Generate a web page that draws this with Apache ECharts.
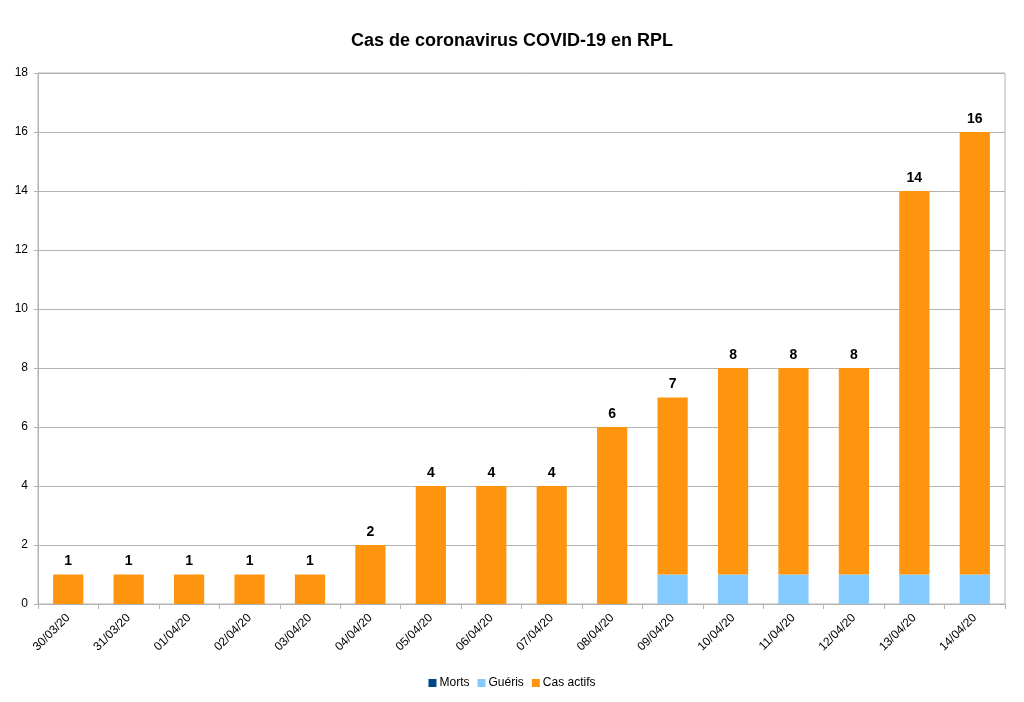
<!DOCTYPE html>
<html>
<head>
<meta charset="utf-8">
<script src="https://cdn.jsdelivr.net/npm/echarts@6/dist/echarts.min.js"></script>
<style>
  html, body { margin: 0; padding: 0; background: #fff; }
  #chart { width: 1024px; height: 702px; }
</style>
</head>
<body>
<div id="chart"></div>
<script>
  // données
  const dates = ['30/03/20', '31/03/20', '01/04/20', '02/04/20', '03/04/20', '04/04/20', '05/04/20', '06/04/20',
    '07/04/20', '08/04/20', '09/04/20', '10/04/20', '11/04/20', '12/04/20', '13/04/20', '14/04/20']
  const morts = [0, 0, 0, 0, 0, 0, 0, 0, 0, 0, 0, 0, 0, 0, 0, 0]
  const gueris = [0, 0, 0, 0, 0, 0, 0, 0, 0, 0, 1, 1, 1, 1, 1, 1]
  const casActifs = [1, 1, 1, 1, 1, 2, 4, 4, 4, 6, 6, 7, 7, 7, 13, 15]

  const totals = casActifs.map((v, i) => v + gueris[i] + morts[i])

  let myChart = echarts.init(document.getElementById('chart'))
  let option = {
    animation: false,
    textStyle: { fontFamily: 'Liberation Sans' },
    title: {
      text: 'Cas de coronavirus COVID-19 en RPL',
      left: 'center',
      top: 27,
      textStyle: { fontSize: 18, fontWeight: 'bold', color: '#000', fontFamily: 'Liberation Sans' }
    },
    legend: {
      bottom: 8,
      left: 'center',
      itemWidth: 8,
      itemHeight: 8,
      itemGap: 8,
      icon: 'rect',
      textStyle: { fontSize: 12, color: '#000', padding: [0, 0, 0, -2] },
      data: ['Morts', 'Guéris', 'Cas actifs']
    },
    grid: {
      left: 38,
      right: 19,
      top: 73,
      bottom: 98,
      show: true,
      borderColor: '#b3b3b3',
      borderWidth: 1
    },
    xAxis: {
      type: 'category',
      data: dates,
      axisLine: { lineStyle: { color: '#b3b3b3' } },
      axisTick: { show: true, length: 5, lineStyle: { color: '#b3b3b3' } },
      axisLabel: { rotate: 45, fontSize: 12, color: '#000', margin: 12 }
    },
    yAxis: {
      type: 'value',
      min: 0,
      max: 18,
      interval: 2,
      axisLine: { show: true, lineStyle: { color: '#b3b3b3' } },
      axisTick: { show: true, length: 4, lineStyle: { color: '#b3b3b3' } },
      axisLabel: { fontSize: 12, color: '#000', margin: 10 },
      splitLine: { lineStyle: { color: '#b3b3b3' } }
    },
    series: [
      {
        name: 'Morts',
        type: 'bar',
        stack: 'total',
        barWidth: '50%',
        color: '#004586',
        data: morts
      },
      {
        name: 'Guéris',
        type: 'bar',
        stack: 'total',
        color: '#83caff',
        data: gueris
      },
      {
        name: 'Cas actifs',
        type: 'bar',
        stack: 'total',
        color: '#ff950e',
        label: {
          show: true,
          position: 'top',
          distance: 6,
          fontSize: 14,
          fontWeight: 'bold',
          color: '#000',
          formatter: function (params) {
            return totals[params.dataIndex]
          }
        },
        data: casActifs
      }
    ]
  }
  myChart.setOption(option)
</script>
</body>
</html>
